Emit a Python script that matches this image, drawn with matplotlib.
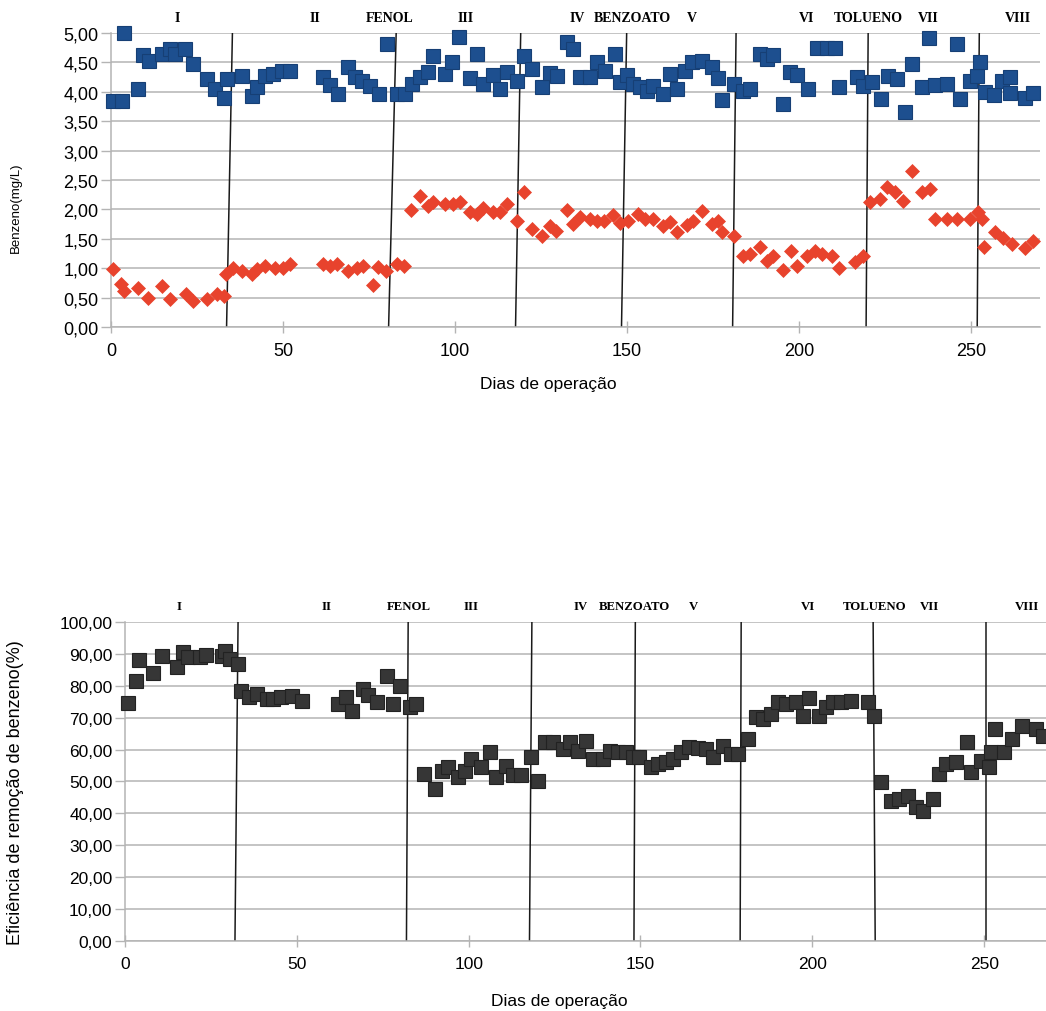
import matplotlib
matplotlib.use('Agg')
import matplotlib.pyplot as plt
from matplotlib.ticker import FuncFormatter

# --- concentracao de benzeno (mg/L): azul = afluente, vermelho = efluente ---
dias_azul = [0.7, 3.1, 3.8, 7.9, 9.3, 11.1, 14.7, 17.2, 18.6, 21.5, 23.9, 27.8, 30.2, 32.8, 33.6,
             38.0, 40.9, 42.4, 44.8, 47.2, 49.6, 52.0, 61.7, 63.7, 66.1, 69.0, 71.0, 72.9, 75.3,
             78.0, 80.3, 83.0, 85.5, 87.4, 89.8, 92.2, 93.7, 97.1, 99.0, 101.2, 104.4, 106.3,
             108.2, 111.1, 113.1, 115.0, 118.1, 120.0, 122.3, 125.2, 127.6, 129.6, 132.5, 134.4,
             136.3, 139.2, 141.2, 143.6, 146.5, 148.0, 149.9, 151.8, 153.8, 155.7, 157.6, 160.6,
             162.5, 164.4, 166.9, 168.8, 171.7, 174.6, 176.5, 177.5, 181.2, 183.8, 185.8, 188.7,
             190.6, 192.5, 195.4, 197.4, 199.5, 202.7, 205.1, 208.0, 210.5, 211.7, 216.8, 218.7,
             221.1, 223.8, 226.0, 228.4, 230.8, 232.8, 235.7, 237.9, 239.5, 242.9, 246.0, 246.8,
             249.7, 251.6, 252.6, 254.1, 256.7, 258.9, 261.3, 261.3, 265.7, 268.1]
benz_azul = [3.85, 3.85, 5.00, 4.04, 4.63, 4.53, 4.64, 4.73, 4.64, 4.73, 4.47, 4.22, 4.05, 3.89, 4.22,
             4.27, 3.93, 4.08, 4.27, 4.30, 4.36, 4.36, 4.25, 4.12, 3.96, 4.42, 4.26, 4.19, 4.10,
             3.96, 4.82, 3.96, 3.96, 4.13, 4.25, 4.33, 4.61, 4.30, 4.50, 4.93, 4.23, 4.64,
             4.13, 4.29, 4.05, 4.33, 4.19, 4.61, 4.39, 4.08, 4.32, 4.27, 4.84, 4.72,
             4.25, 4.25, 4.50, 4.36, 4.64, 4.17, 4.28, 4.13, 4.08, 4.02, 4.10, 3.96,
             4.30, 4.05, 4.36, 4.50, 4.53, 4.42, 4.23, 3.86, 4.13, 4.02, 4.05, 4.64,
             4.56, 4.63, 3.79, 4.34, 4.28, 4.04, 4.74, 4.74, 4.74, 4.08, 4.25, 4.10,
             4.16, 3.87, 4.27, 4.22, 3.65, 4.47, 4.08, 4.91, 4.12, 4.14, 4.81, 3.87,
             4.19, 4.27, 4.50, 4.00, 3.95, 4.19, 4.25, 3.98, 3.89, 3.98]

dias_verm = [0.7, 2.8, 3.8, 7.9, 10.8, 14.7, 17.2, 21.8, 23.9, 27.8, 30.7, 32.8, 33.4, 35.6, 38.0,
             40.9, 42.4, 44.8, 47.7, 50.1, 52.0, 61.7, 63.7, 65.6, 69.0, 71.4, 73.4, 76.1, 77.7,
             79.9, 83.0, 85.2, 87.2, 89.8, 92.2, 93.7, 97.1, 99.3, 101.5, 104.4, 106.3, 108.2,
             111.1, 113.1, 115.2, 118.1, 120.0, 122.3, 125.2, 127.6, 129.4, 132.5, 134.4, 136.3,
             139.2, 141.2, 143.3, 146.0, 148.0, 150.4, 153.3, 155.2, 157.6, 160.6, 162.5, 164.4,
             167.3, 169.3, 171.7, 174.6, 176.5, 177.5, 181.0, 183.6, 185.8, 188.7, 190.6, 192.5,
             195.4, 197.6, 199.5, 202.4, 204.7, 206.6, 209.5, 211.7, 216.3, 218.7, 220.6, 223.5,
             225.5, 227.9, 230.3, 232.8, 235.7, 238.1, 239.5, 242.9, 246.0, 249.7, 252.1, 253.1,
             253.8, 257.0, 259.4, 261.8, 265.7, 268.1]
benz_verm = [0.99, 0.73, 0.62, 0.66, 0.49, 0.69, 0.48, 0.56, 0.45, 0.48, 0.56, 0.52, 0.90, 1.01, 0.96,
             0.90, 0.99, 1.04, 1.01, 1.01, 1.07, 1.07, 1.04, 1.07, 0.96, 1.01, 1.04, 0.71, 1.02,
             0.96, 1.07, 1.04, 1.99, 2.23, 2.06, 2.12, 2.10, 2.09, 2.12, 1.95, 1.92, 2.02,
             1.95, 1.95, 2.10, 1.81, 2.30, 1.67, 1.55, 1.72, 1.64, 1.99, 1.75, 1.87,
             1.84, 1.81, 1.80, 1.91, 1.77, 1.81, 1.93, 1.84, 1.83, 1.72, 1.78, 1.61,
             1.73, 1.81, 1.97, 1.75, 1.81, 1.61, 1.54, 1.21, 1.24, 1.36, 1.13, 1.21,
             0.97, 1.30, 1.04, 1.21, 1.30, 1.24, 1.21, 1.01, 1.10, 1.21, 2.12, 2.18,
             2.38, 2.29, 2.15, 2.66, 2.29, 2.35, 1.84, 1.83, 1.83, 1.84, 1.95, 1.84,
             1.36, 1.61, 1.51, 1.41, 1.34, 1.47]

# --- eficiencia de remocao (%) ---
dias_ef = [1.0, 3.2, 4.2, 8.1, 10.7, 15.0, 17.0, 18.4, 21.8, 23.7, 28.1, 29.1, 30.5, 32.9, 33.9,
           36.1, 38.3, 41.2, 43.1, 45.5, 48.5, 51.4, 62.0, 64.2, 66.2, 69.3, 70.7, 73.2, 76.3,
           78.0, 80.0, 83.0, 84.8, 86.9, 90.1, 92.1, 94.0, 96.9, 98.8, 100.8, 103.7, 106.1,
           108.0, 111.0, 112.9, 115.3, 118.2, 120.1, 122.1, 124.5, 127.4, 129.4, 131.8, 134.2,
           136.1, 139.0, 141.0, 143.4, 145.8, 147.8, 149.7, 153.1, 155.0, 157.5, 159.4, 161.8,
           164.2, 166.7, 169.1, 171.0, 173.9, 176.4, 178.3, 181.2, 183.6, 185.6, 188.0, 189.9,
           192.4, 195.3, 197.2, 198.9, 202.0, 204.0, 205.9, 208.3, 211.2, 216.1, 218.0, 220.0,
           222.9, 225.3, 227.7, 230.1, 232.3, 235.0, 236.9, 238.9, 241.8, 245.1, 246.1, 249.0,
           251.5, 251.9, 253.2, 255.8, 258.2, 261.1, 265.0, 267.0]
eficiencia = [74.6, 81.6, 88.2, 84.0, 89.4, 85.8, 90.5, 88.9, 88.9, 89.7, 89.3, 91.0, 88.4, 86.8, 78.5,
              76.4, 77.3, 75.9, 75.9, 76.4, 76.9, 75.3, 74.3, 76.4, 72.2, 79.0, 77.0, 75.0, 83.0,
              74.3, 80.0, 73.2, 74.3, 52.4, 47.6, 53.4, 54.4, 51.3, 53.4, 57.1, 54.4, 59.1,
              51.3, 55.0, 52.1, 52.1, 57.6, 50.3, 62.3, 62.3, 60.2, 62.3, 59.6, 62.8,
              57.1, 57.1, 59.6, 59.1, 59.1, 57.6, 57.6, 54.4, 55.5, 56.0, 57.1, 59.1,
              60.7, 60.4, 60.2, 57.6, 61.2, 58.6, 58.6, 63.3, 70.1, 69.6, 71.2, 74.8,
              74.3, 74.8, 70.6, 76.1, 70.6, 73.3, 74.8, 74.8, 75.3, 74.8, 70.6, 49.7,
              44.0, 44.5, 45.5, 41.9, 40.8, 44.5, 52.4, 55.5, 56.0, 62.3, 52.9, 56.5,
              54.4, 59.1, 66.5, 59.1, 63.3, 67.5, 66.5, 64.4]

# fases (linhas desenhadas a mao, levemente inclinadas: topo / base)
fases = ['I', 'II', 'FENOL', 'III', 'IV', 'BENZOATO', 'V', 'VI', 'TOLUENO', 'VII', 'VIII']
fases_x_sup = [19.2, 59.3, 81.1, 103.2, 135.5, 151.7, 168.9, 202.3, 220.0, 237.5, 263.7]
fases_x_inf = [15.7, 58.6, 82.5, 100.6, 132.7, 148.3, 165.4, 198.6, 218.0, 234.0, 262.5]
linhas_sup_topo = [35.3, 82.9, 119.1, 149.9, 181.7, 220.1, 252.4]
linhas_sup_base = [33.6, 80.7, 117.6, 148.4, 180.7, 219.5, 251.8]
linhas_inf_topo = [32.9, 82.4, 118.4, 148.5, 179.3, 217.7, 250.5]
linhas_inf_base = [32.0, 81.9, 117.7, 148.1, 179.0, 218.3, 250.5]

plt.rcParams['font.family'] = ['Liberation Sans', 'DejaVu Sans']

virgula = FuncFormatter(lambda v, p: ('%.2f' % v).replace('.', ','))
grid_cor = '#b4b4b4'


def estilo(ax, ymax, ystep, fs):
    ax.set_yticks([i * ystep for i in range(int(round(ymax / ystep)) + 1)])
    ax.set_ylim(0, ymax)
    ax.yaxis.set_major_formatter(virgula)
    ax.set_xticks([0, 50, 100, 150, 200, 250])
    ax.grid(axis='y', color=grid_cor, linewidth=1.1)
    ax.set_axisbelow(True)
    for s in ['top', 'right']:
        ax.spines[s].set_visible(False)
    for s in ['left', 'bottom']:
        ax.spines[s].set_color(grid_cor)
        ax.spines[s].set_linewidth(1.1)
    ax.tick_params(axis='y', length=7, width=1, color=grid_cor, labelsize=fs, pad=2)
    ax.tick_params(axis='x', length=9, width=1, color=grid_cor, direction='inout', labelsize=fs, pad=6)


fig = plt.figure(figsize=(10.46, 10.12), dpi=100)

# ---------- grafico superior ----------
ax1 = fig.add_axes([0.1061, 0.6759, 0.888, 0.2905])
estilo(ax1, 5.0, 0.5, 13)
ax1.set_xlim(0, 270)
for xt, xb in zip(linhas_sup_topo, linhas_sup_base):
    ax1.plot([xb, xt], [0, 5.0], color='#1a1a1a', linewidth=1.1, zorder=2)
ax1.plot(dias_azul, benz_azul, linestyle='none', marker='s', markersize=9.6,
         color='#1d4f8f', markeredgecolor='#163f75', markeredgewidth=0.8, zorder=3, clip_on=False)
ax1.plot(dias_verm, benz_verm, linestyle='none', marker='D', markersize=6.8,
         color='#e8432d', markeredgecolor='#e8432d', markeredgewidth=0.5, zorder=3, clip_on=False)
ax1.set_ylabel('Benzeno(mg/L)', fontsize=9.5)
ax1.yaxis.set_label_coords(-0.096, 0.41)
ax1.set_xlabel('Dias de operação', fontsize=12.5)
ax1.xaxis.set_label_coords(0.471, -0.167)
for nome, x in zip(fases, fases_x_sup):
    ax1.text(x, 1.054, nome, transform=ax1.get_xaxis_transform(), ha='center', va='center',
             fontsize=10, fontweight='bold', family='Liberation Serif')

# ---------- grafico inferior ----------
ax2 = fig.add_axes([0.1195, 0.0692, 0.8805, 0.3152])
estilo(ax2, 100.0, 10.0, 12.5)
ax2.set_xlim(0, 268)
for xt, xb in zip(linhas_inf_topo, linhas_inf_base):
    ax2.plot([xb, xt], [0, 100.0], color='#1a1a1a', linewidth=1.1, zorder=2)
ax2.plot(dias_ef, eficiencia, linestyle='none', marker='s', markersize=9.8,
         color='#363636', markeredgecolor='#222222', markeredgewidth=0.8, zorder=3, clip_on=False)
ax2.set_ylabel('Eficiência de remoção de benzeno(%)', fontsize=13)
ax2.yaxis.set_label_coords(-0.110, 0.467)
ax2.set_xlabel('Dias de operação', fontsize=12.5)
ax2.xaxis.set_label_coords(0.472, -0.163)
for nome, x in zip(fases, fases_x_inf):
    ax2.text(x, 1.05, nome, transform=ax2.get_xaxis_transform(), ha='center', va='center',
             fontsize=9.2, fontweight='bold', family='Liberation Serif')

fig.savefig('out.png', dpi=100)
